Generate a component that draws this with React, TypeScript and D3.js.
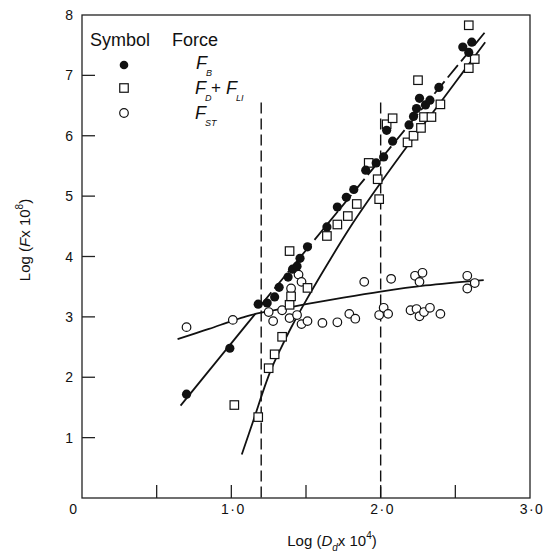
import React, { useRef, useEffect } from 'react';
import * as d3 from 'd3';

// buoyancy force, filled circles
const fbPoints: [number, number][] = [
  [0.70, 1.72], [0.99, 2.48], [1.18, 3.21], [1.24, 3.23], [1.29, 3.33], [1.32, 3.49],
  [1.38, 3.66], [1.41, 3.79], [1.44, 3.84], [1.46, 3.97], [1.51, 4.16], [1.64, 4.49],
  [1.71, 4.82], [1.77, 4.98], [1.82, 5.11], [1.90, 5.43], [1.97, 5.55], [2.02, 5.65],
  [2.04, 6.09], [2.08, 5.91], [2.19, 6.18], [2.22, 6.32], [2.24, 6.45], [2.26, 6.62],
  [2.30, 6.51], [2.33, 6.59], [2.39, 6.80], [2.55, 7.47], [2.59, 7.38], [2.61, 7.55],
];

// drag + lift, open squares
const fdPoints: [number, number][] = [
  [1.02, 1.54], [1.18, 1.34], [1.25, 2.15], [1.29, 2.38], [1.34, 2.67], [1.39, 3.20],
  [1.40, 3.34], [1.51, 3.48], [1.39, 4.09], [1.64, 4.34], [1.71, 4.53], [1.78, 4.67],
  [1.84, 4.87], [1.99, 4.95], [1.98, 5.28], [1.92, 5.55], [2.04, 6.19], [2.08, 6.29],
  [2.18, 5.89], [2.22, 6.00], [2.27, 6.13], [2.29, 6.31], [2.34, 6.31], [2.40, 6.52],
  [2.25, 6.92], [2.59, 7.83], [2.63, 7.27], [2.59, 7.12],
];

// surface tension, open circles
const stPoints: [number, number][] = [
  [0.70, 2.83], [1.01, 2.95], [1.25, 3.08], [1.28, 2.93], [1.34, 3.11], [1.39, 2.98],
  [1.44, 3.03], [1.47, 2.88], [1.51, 2.93], [1.40, 3.47], [1.45, 3.70], [1.47, 3.58],
  [1.61, 2.90], [1.71, 2.91], [1.79, 3.05], [1.83, 2.97], [1.89, 3.58], [1.99, 3.03],
  [2.02, 3.15], [2.05, 3.05], [2.07, 3.63], [2.20, 3.11], [2.24, 3.13], [2.26, 3.01],
  [2.29, 3.08], [2.33, 3.15], [2.40, 3.05], [2.23, 3.68], [2.28, 3.73], [2.26, 3.58],
  [2.58, 3.68], [2.63, 3.56], [2.58, 3.47],
];

// fitted curves
const fbLineLow: [number, number][] = [[0.66, 1.53], [1.16, 3.05]];
const fbLineHigh: [number, number][] = [[1.20, 3.20], [2.70, 7.72]];
const fdCurve: [number, number][] = [
  [1.07, 0.72], [1.15, 1.30], [1.22, 1.82], [1.27, 2.15], [1.33, 2.47], [1.40, 2.82],
  [1.50, 3.27], [1.65, 3.90], [1.80, 4.50], [2.00, 5.22], [2.20, 5.90], [2.40, 6.55],
  [2.55, 7.05], [2.70, 7.55],
];
const stCurve: [number, number][] = [
  [0.64, 2.63], [0.85, 2.80], [1.00, 2.93], [1.10, 3.01], [1.20, 3.07], [1.35, 3.14],
  [1.50, 3.21], [1.75, 3.32], [2.00, 3.42], [2.30, 3.52], [2.69, 3.61],
];
const guideX = [1.2, 2.0];
const guideTop = 6.55;

const xMinorTicks = [0.5, 1.0, 1.5, 2.0, 2.5];
const xLabelValues = [0, 1, 2, 3];
const xLabelTexts = ['0', '1·0', '2·0', '3·0'];
const yTicks = [1, 2, 3, 4, 5, 6, 7];
const yLabelValues = [1, 2, 3, 4, 5, 6, 7, 8];

const FONT = '"Liberation Sans", Arial, sans-serif';

function App() {
  const ref = useRef<SVGSVGElement>(null);

  useEffect(() => {
    document.body.style.margin = '0';
    const svg = d3.select(ref.current);
    svg.selectAll('*').remove();

    const x = d3.scaleLinear().domain([0, 3]).range([82, 530]);
    const y = d3.scaleLinear().domain([0, 8]).range([498, 15]);

    const g = svg.append('g').attr('font-family', FONT).attr('fill', '#111');

    // frame
    g.append('rect')
      .attr('x', x(0)).attr('y', y(8))
      .attr('width', x(3) - x(0)).attr('height', y(0) - y(8))
      .attr('fill', 'none').attr('stroke', '#222').attr('stroke-width', 1.3);

    // ticks pointing inward
    g.selectAll('.xt').data(xMinorTicks).enter().append('line')
      .attr('x1', (d) => x(d)).attr('x2', (d) => x(d))
      .attr('y1', y(0)).attr('y2', y(0) - 13)
      .attr('stroke', '#222').attr('stroke-width', 1.3);
    g.selectAll('.yt').data(yTicks).enter().append('line')
      .attr('x1', x(0)).attr('x2', x(0) + 13)
      .attr('y1', (d) => y(d)).attr('y2', (d) => y(d))
      .attr('stroke', '#222').attr('stroke-width', 1.3);

    g.selectAll('.xl').data(xLabelValues).enter().append('text')
      .attr('x', (d) => (d === 0 ? x(d) - 8 : x(d) + 2))
      .attr('y', y(0) + 16)
      .attr('text-anchor', 'middle')
      .attr('font-size', 14)
      .attr('letter-spacing', 1.5)
      .text((d, i) => xLabelTexts[i]);
    g.selectAll('.yl').data(yLabelValues).enter().append('text')
      .attr('x', x(0) - 9)
      .attr('y', (d) => y(d) + 5)
      .attr('text-anchor', 'end')
      .attr('font-size', 14)
      .text((d) => String(d));

    // axis titles
    const xt = g.append('text').attr('x', 332).attr('y', 546)
      .attr('text-anchor', 'middle').attr('font-size', 15);
    xt.append('tspan').text('Log (');
    xt.append('tspan').attr('font-style', 'italic').text('D');
    xt.append('tspan').attr('font-size', 10).attr('font-style', 'italic').attr('dy', 5).text('d');
    xt.append('tspan').attr('dy', -5).text('x 10');
    xt.append('tspan').attr('font-size', 10).attr('dy', -7).text('4');
    xt.append('tspan').attr('dy', 7).text(')');

    const yt = g.append('text').attr('transform', 'translate(30,240) rotate(-90)')
      .attr('text-anchor', 'middle').attr('font-size', 15);
    yt.append('tspan').text('Log (');
    yt.append('tspan').attr('font-style', 'italic').text('F');
    yt.append('tspan').text('x 10');
    yt.append('tspan').attr('font-size', 10).attr('dy', -7).text('8');
    yt.append('tspan').attr('dy', 7).text(')');

    // dashed guides
    g.selectAll('.guide').data(guideX).enter().append('line')
      .attr('x1', (d) => x(d)).attr('x2', (d) => x(d))
      .attr('y1', y(guideTop)).attr('y2', y(0))
      .attr('stroke', '#111').attr('stroke-width', 1.4)
      .attr('stroke-dasharray', '11 5');

    const line = d3.line<[number, number]>().x((d) => x(d[0])).y((d) => y(d[1]));
    const smooth = d3.line<[number, number]>().x((d) => x(d[0])).y((d) => y(d[1]))
      .curve(d3.curveCatmullRom.alpha(0.5));

    g.append('path').attr('d', line(fbLineLow)).attr('fill', 'none')
      .attr('stroke', '#111').attr('stroke-width', 1.8);
    g.append('path').attr('d', line(fbLineHigh)).attr('fill', 'none')
      .attr('stroke', '#111').attr('stroke-width', 1.8).attr('stroke-dasharray', '16 5');
    g.append('path').attr('d', smooth(fdCurve)).attr('fill', 'none')
      .attr('stroke', '#111').attr('stroke-width', 1.8);
    g.append('path').attr('d', smooth(stCurve)).attr('fill', 'none')
      .attr('stroke', '#111').attr('stroke-width', 1.8);

    // markers
    const r = 4.3;
    const s = 8.5;
    g.selectAll('.st').data(stPoints).enter().append('circle')
      .attr('cx', (d) => x(d[0])).attr('cy', (d) => y(d[1])).attr('r', r)
      .attr('fill', '#fff').attr('stroke', '#111').attr('stroke-width', 1.2);
    g.selectAll('.fd').data(fdPoints).enter().append('rect')
      .attr('x', (d) => x(d[0]) - s / 2).attr('y', (d) => y(d[1]) - s / 2)
      .attr('width', s).attr('height', s)
      .attr('fill', '#fff').attr('stroke', '#111').attr('stroke-width', 1.2);
    g.selectAll('.fb').data(fbPoints).enter().append('circle')
      .attr('cx', (d) => x(d[0])).attr('cy', (d) => y(d[1])).attr('r', r + 0.3)
      .attr('fill', '#111');

    // legend
    g.append('text').attr('x', 90).attr('y', 46).attr('font-size', 18).text('Symbol');
    g.append('text').attr('x', 172).attr('y', 46).attr('font-size', 18).text('Force');
    g.append('circle').attr('cx', 124).attr('cy', 65).attr('r', r).attr('fill', '#111');
    g.append('rect').attr('x', 124 - s / 2).attr('y', 88 - s / 2).attr('width', s).attr('height', s)
      .attr('fill', '#fff').attr('stroke', '#111').attr('stroke-width', 1.2);
    g.append('circle').attr('cx', 124).attr('cy', 113).attr('r', r)
      .attr('fill', '#fff').attr('stroke', '#111').attr('stroke-width', 1.2);

    const sym = (tx: number, ty: number, sub: string) => {
      g.append('text').attr('x', tx).attr('y', ty)
        .attr('font-style', 'italic').attr('font-size', 18).text('F');
      g.append('text').attr('x', tx + 10).attr('y', ty + 7)
        .attr('font-style', 'italic').attr('font-size', 9).text(sub);
    };
    sym(196, 69, 'B');
    sym(195, 94, 'D');
    g.append('text').attr('x', 211).attr('y', 93).attr('font-size', 17).text('+');
    sym(226, 94, 'LI');
    sym(195, 119, 'ST');
  }, []);

  return <svg ref={ref} width={556} height={555} style={{ display: 'block' }} />;
}

export default App;
